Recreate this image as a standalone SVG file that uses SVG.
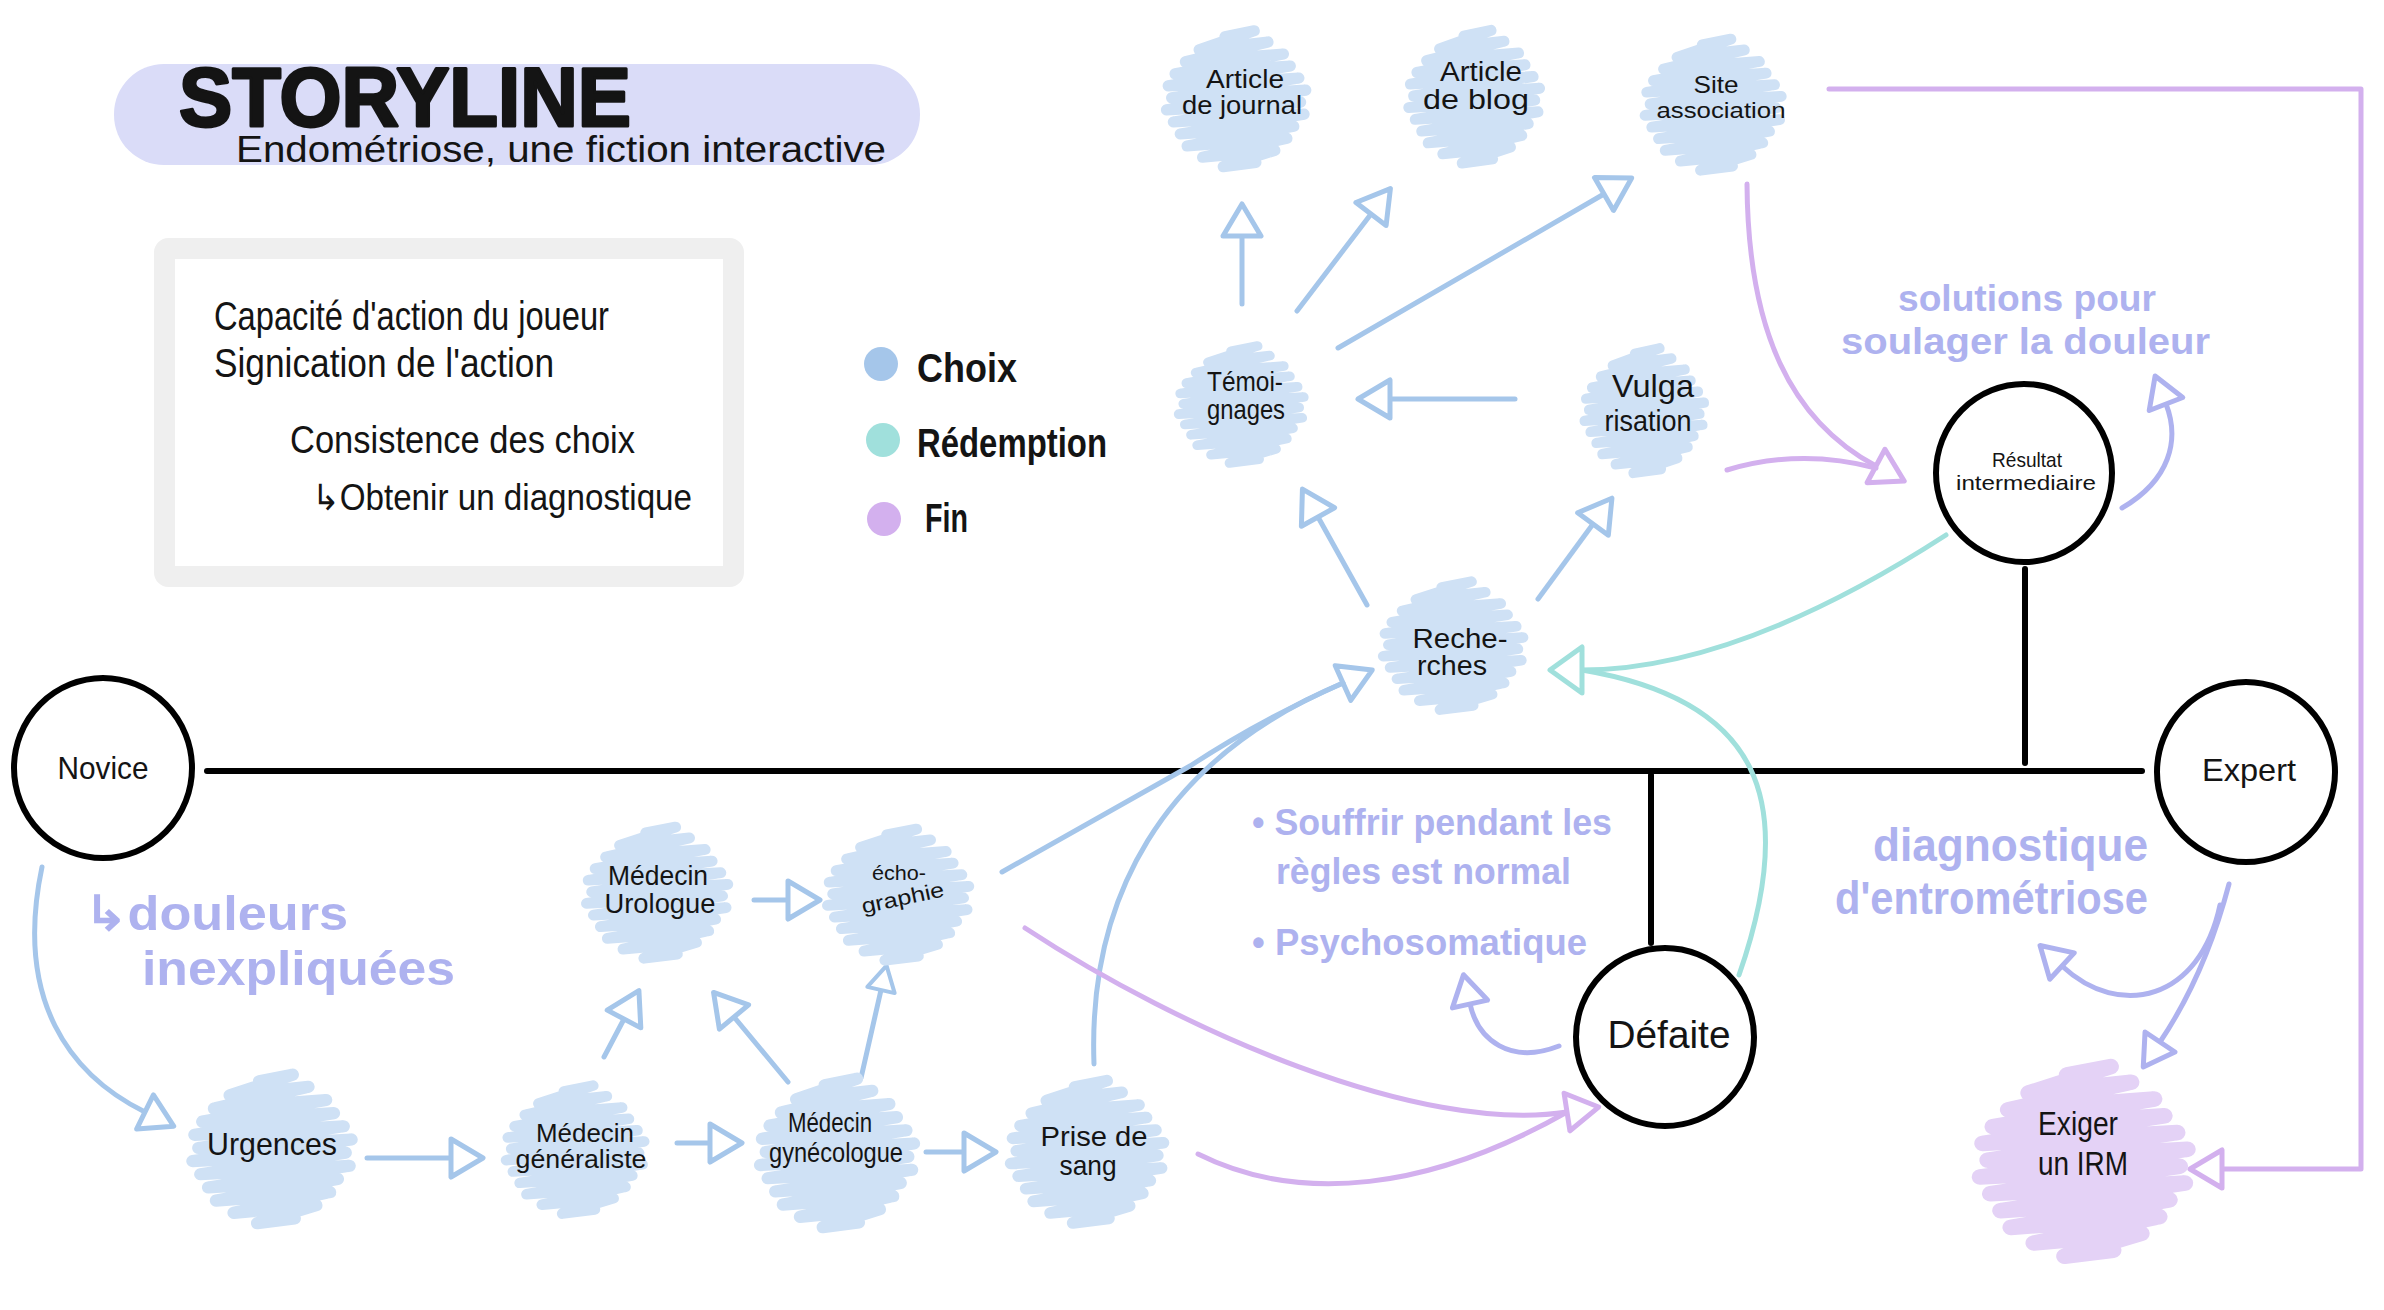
<svg xmlns="http://www.w3.org/2000/svg" xmlns:xlink="http://www.w3.org/1999/xlink" width="2384" height="1310" viewBox="0 0 2384 1310">
<style>
.hand{font-family:"Liberation Sans Narrow","Liberation Sans",Arial,sans-serif;fill:#141414;}
.lav{font-family:"Liberation Sans",Arial,sans-serif;fill:#aeb2ef;font-weight:bold;}
.bl{fill:none;stroke:#a5c6ea;stroke-width:5;stroke-linecap:round;stroke-linejoin:round;}
.pu{fill:none;stroke:#d3b0ee;stroke-width:5;stroke-linecap:round;stroke-linejoin:round;}
.te{fill:none;stroke:#a0e0dc;stroke-width:5;stroke-linecap:round;}
.lv{fill:none;stroke:#aeb2ef;stroke-width:5;stroke-linecap:round;}
.blk{fill:none;stroke:#000;stroke-width:6;stroke-linecap:round;}
.ring{fill:#fff;stroke:#000;stroke-width:6;}
.sb{stroke:#cfe1f5;}
.sp{stroke:#e4d2f6;}
</style>
<defs>
<path id="scrib" fill="none" stroke-width="13" stroke-linecap="round" stroke-linejoin="round" d="M-14,-70 L20,-77 L-44,-55 L36,-64 L-60,-41 L54,-50 L-72,-27 L62,-36 L-80,-13 L72,-22 L-76,1 L80,-8 L-82,15 L74,6 L-74,29 L78,20 L-66,43 L66,34 L-58,57 L58,48 L-40,70 L44,62 L-16,81 L22,76"/>
<marker id="mb" viewBox="-4 -24 40 48" refX="0" refY="0" markerWidth="40" markerHeight="48" markerUnits="userSpaceOnUse" orient="auto"><path d="M0,-19 L32,0 L0,19 Z" fill="#fff" stroke="#a5c6ea" stroke-width="5" stroke-linejoin="round"/></marker>
<marker id="mbs" viewBox="-4 -18 32 36" refX="0" refY="0" markerWidth="32" markerHeight="36" markerUnits="userSpaceOnUse" orient="auto"><path d="M0,-14 L25,0 L0,14 Z" fill="#fff" stroke="#a5c6ea" stroke-width="4" stroke-linejoin="round"/></marker>
<marker id="mp" viewBox="-4 -24 40 48" refX="0" refY="0" markerWidth="40" markerHeight="48" markerUnits="userSpaceOnUse" orient="auto"><path d="M0,-19 L32,0 L0,19 Z" fill="#fff" stroke="#d3b0ee" stroke-width="5" stroke-linejoin="round"/></marker>
<marker id="mt" viewBox="-4 -28 40 56" refX="0" refY="0" markerWidth="40" markerHeight="56" markerUnits="userSpaceOnUse" orient="auto"><path d="M0,-23 L32,0 L0,23 Z" fill="#fff" stroke="#a0e0dc" stroke-width="5" stroke-linejoin="round"/></marker>
<marker id="ml" viewBox="-4 -24 40 48" refX="0" refY="0" markerWidth="40" markerHeight="48" markerUnits="userSpaceOnUse" orient="auto"><path d="M0,-18 L30,0 L0,18 Z" fill="#fff" stroke="#aeb2ef" stroke-width="5" stroke-linejoin="round"/></marker>
</defs>
<rect width="2384" height="1310" fill="#fff"/>

<g id="title">
<rect x="114" y="64" width="806" height="101" rx="50" fill="#dadcf8"/>
<text class="hand" x="179" y="126" font-size="84" font-weight="bold" stroke="#141414" stroke-width="3" stroke-linejoin="round" textLength="452" lengthAdjust="spacingAndGlyphs">STORYLINE</text>
<text class="hand" x="236" y="162" font-size="37" textLength="650" lengthAdjust="spacingAndGlyphs">Endométriose, une fiction interactive</text>
</g>

<g id="notes">
<rect x="164.5" y="248.5" width="569" height="328" rx="4" fill="#fff" stroke="#efefef" stroke-width="21"/>
<text class="hand" x="214" y="330" font-size="40" textLength="395" lengthAdjust="spacingAndGlyphs">Capacité d'action du joueur</text>
<text class="hand" x="214" y="377" font-size="40" textLength="340" lengthAdjust="spacingAndGlyphs">Signication  de l'action</text>
<text class="hand" x="290" y="453" font-size="38" textLength="345" lengthAdjust="spacingAndGlyphs">Consistence  des  choix</text>
<text class="hand" x="312" y="510" font-size="36" textLength="380" lengthAdjust="spacingAndGlyphs">↳Obtenir un diagnostique</text>
</g>

<g id="legend">
<circle cx="881" cy="364" r="17" fill="#a5c6ea"/>
<circle cx="883" cy="440" r="17" fill="#a0e0dc"/>
<circle cx="884" cy="519" r="17" fill="#d3b0ee"/>
<text class="hand" x="917" y="382" font-size="40" font-weight="bold" textLength="100" lengthAdjust="spacingAndGlyphs">Choix</text>
<text class="hand" x="917" y="457" font-size="40" font-weight="bold" textLength="190" lengthAdjust="spacingAndGlyphs">Rédemption</text>
<text class="hand" x="925" y="532" font-size="40" font-weight="bold" textLength="43" lengthAdjust="spacingAndGlyphs">Fin</text>
</g>

<g id="annotations">
<text class="lav" x="84" y="930" font-size="48" textLength="264" lengthAdjust="spacingAndGlyphs">↳douleurs</text>
<text class="lav" x="142" y="985" font-size="48" textLength="313" lengthAdjust="spacingAndGlyphs">inexpliquées</text>
<text class="lav" x="1898" y="311" font-size="37" font-weight="normal" textLength="258" lengthAdjust="spacingAndGlyphs">solutions pour</text>
<text class="lav" x="1841" y="354" font-size="37" font-weight="normal" textLength="369" lengthAdjust="spacingAndGlyphs">soulager la douleur</text>
<text class="lav" x="1252" y="835" font-size="36" font-weight="normal" textLength="360" lengthAdjust="spacingAndGlyphs">• Souffrir pendant les</text>
<text class="lav" x="1276" y="884" font-size="36" font-weight="normal" textLength="295" lengthAdjust="spacingAndGlyphs">règles est normal</text>
<text class="lav" x="1252" y="955" font-size="36" font-weight="normal" textLength="335" lengthAdjust="spacingAndGlyphs">• Psychosomatique</text>
<text class="lav" x="1873" y="861" font-size="46" textLength="275" lengthAdjust="spacingAndGlyphs">diagnostique</text>
<text class="lav" x="1835" y="914" font-size="46" textLength="313" lengthAdjust="spacingAndGlyphs">d'entrométriose</text>
</g>

<g id="connectors">
<path class="blk" d="M207,771 L2142,771"/>
<path class="blk" d="M2025,569 L2025,763"/>
<path class="blk" d="M1651,775 L1651,943"/>
<path class="bl" d="M42,867 C14,1000 70,1075 145,1112" marker-end="url(#mb)"/>
<path class="bl" d="M367,1158 L451,1158" marker-end="url(#mb)"/>
<path class="bl" d="M677,1143 L710,1143" marker-end="url(#mb)"/>
<path class="bl" d="M926,1152 L964,1152" marker-end="url(#mb)"/>
<path class="bl" d="M604,1057 L624,1019" marker-end="url(#mb)"/>
<path class="bl" d="M788,1082 L734,1017" marker-end="url(#mb)"/>
<path class="bl" d="M861,1078 L881,990" stroke-width="3" marker-end="url(#mbs)"/>
<path class="bl" d="M754,900 L788,900" marker-end="url(#mb)"/>
<path class="bl" d="M1002,872 L1190,766 Q1260,720 1343,683" marker-end="url(#mb)"/>
<path class="bl" d="M1094,1064 C1088,900 1160,760 1343,683"/>
<path class="bl" d="M1367,605 L1318,517" marker-end="url(#mb)"/>
<path class="bl" d="M1538,599 L1593,524" marker-end="url(#mb)"/>
<path class="bl" d="M1515,399 L1390,399" marker-end="url(#mb)"/>
<path class="bl" d="M1242,304 L1242,236" marker-end="url(#mb)"/>
<path class="bl" d="M1297,311 L1371,214" marker-end="url(#mb)"/>
<path class="bl" d="M1338,348 L1604,194" marker-end="url(#mb)"/>
<path class="pu" d="M1747,184 C1748,330 1790,420 1876,466" marker-end="url(#mp)"/>
<path class="pu" d="M1727,470 Q1800,448 1876,468"/>
<path class="pu" d="M1829,89 L2361,89 L2361,1169 L2222,1169" marker-end="url(#mp)"/>
<path class="pu" d="M1198,1154 C1300,1205 1430,1190 1567,1112"/>
<path class="pu" d="M1025,928 C1180,1030 1420,1135 1567,1112" marker-end="url(#mp)"/>
<path class="te" d="M1739,975 C1800,800 1760,700 1582,670"/>
<path class="te" d="M1946,535 C1830,610 1700,670 1582,670" marker-end="url(#mt)"/>
<path class="lv" d="M2122,508 C2170,480 2180,440 2166,404" marker-end="url(#ml)"/>
<path class="lv" d="M1559,1046 C1510,1065 1478,1040 1470,1004" marker-end="url(#ml)"/>
<path class="lv" d="M2229,884 Q2205,975 2160,1042" marker-end="url(#ml)"/>
<path class="lv" d="M2220,905 C2200,1000 2120,1020 2062,966" marker-end="url(#ml)"/>
</g>

<g id="novice"><ellipse class="ring" cx="103" cy="768" rx="89" ry="90"/><text class="hand" x="103" y="779" font-size="32" text-anchor="middle" textLength="91" lengthAdjust="spacingAndGlyphs">Novice</text></g>
<g id="expert"><ellipse class="ring" cx="2246" cy="772" rx="89" ry="90"/><text class="hand" x="2249" y="781" font-size="32" text-anchor="middle" textLength="94" lengthAdjust="spacingAndGlyphs">Expert</text></g>
<g id="defaite"><ellipse class="ring" cx="1665" cy="1037" rx="89" ry="89"/><text class="hand" x="1669" y="1048" font-size="38" text-anchor="middle" textLength="123" lengthAdjust="spacingAndGlyphs">Défaite</text></g>
<g id="resultat"><ellipse class="ring" cx="2024" cy="473" rx="88" ry="89"/><text class="hand" x="2027" y="467" font-size="21" text-anchor="middle" textLength="70" lengthAdjust="spacingAndGlyphs">Résultat</text><text class="hand" x="2026" y="490" font-size="21" text-anchor="middle" textLength="140" lengthAdjust="spacingAndGlyphs">intermediaire</text></g>

<g id="article-journal"><use xlink:href="#scrib" class="sb" transform="translate(1237,97) scale(0.86,0.86)"/><text class="hand" x="1245" y="88" font-size="25" text-anchor="middle" textLength="78" lengthAdjust="spacingAndGlyphs">Article</text><text class="hand" x="1242" y="114" font-size="25" text-anchor="middle" textLength="120" lengthAdjust="spacingAndGlyphs">de journal</text></g>
<g id="article-blog"><use xlink:href="#scrib" class="sb" transform="translate(1475,95) scale(0.81,0.84)"/><text class="hand" x="1481" y="81" font-size="27" text-anchor="middle" textLength="82" lengthAdjust="spacingAndGlyphs">Article</text><text class="hand" x="1476" y="109" font-size="27" text-anchor="middle" textLength="106" lengthAdjust="spacingAndGlyphs">de blog</text></g>
<g id="site-association"><use xlink:href="#scrib" class="sb" transform="translate(1714,103) scale(0.84,0.83)"/><text class="hand" x="1716" y="93" font-size="24" text-anchor="middle" textLength="45" lengthAdjust="spacingAndGlyphs">Site</text><text class="hand" x="1721" y="118" font-size="22" text-anchor="middle" textLength="129" lengthAdjust="spacingAndGlyphs">association</text></g>
<g id="temoignages"><use xlink:href="#scrib" class="sb" transform="translate(1242,403) scale(0.77,0.74)"/><text class="hand" x="1245" y="391" font-size="27" text-anchor="middle" textLength="76" lengthAdjust="spacingAndGlyphs">Témoi-</text><text class="hand" x="1246" y="419" font-size="27" text-anchor="middle" textLength="78" lengthAdjust="spacingAndGlyphs">gnages</text></g>
<g id="vulgarisation"><use xlink:href="#scrib" class="sb" transform="translate(1645,409) scale(0.74,0.79)"/><text class="hand" x="1653" y="397" font-size="32" text-anchor="middle" textLength="82" lengthAdjust="spacingAndGlyphs">Vulga</text><text class="hand" x="1648" y="431" font-size="30" text-anchor="middle" textLength="87" lengthAdjust="spacingAndGlyphs">risation</text></g>
<g id="recherches"><use xlink:href="#scrib" class="sb" transform="translate(1454,644) scale(0.86,0.81)"/><text class="hand" x="1460" y="648" font-size="27" text-anchor="middle" textLength="95" lengthAdjust="spacingAndGlyphs">Reche-</text><text class="hand" x="1452" y="675" font-size="27" text-anchor="middle" textLength="70" lengthAdjust="spacingAndGlyphs">rches</text></g>
<g id="urgences"><use xlink:href="#scrib" class="sb" transform="translate(273,1147) scale(0.98,0.94)"/><text class="hand" x="272" y="1155" font-size="32" text-anchor="middle" textLength="130" lengthAdjust="spacingAndGlyphs">Urgences</text></g>
<g id="medecin-generaliste"><use xlink:href="#scrib" class="sb" transform="translate(576,1148) scale(0.85,0.81)"/><text class="hand" x="585" y="1142" font-size="25" text-anchor="middle" textLength="98" lengthAdjust="spacingAndGlyphs">Médecin</text><text class="hand" x="581" y="1168" font-size="25" text-anchor="middle" textLength="131" lengthAdjust="spacingAndGlyphs">généraliste</text></g>
<g id="medecin-gynecologue"><use xlink:href="#scrib" class="sb" transform="translate(838,1151) scale(0.95,0.94)"/><text class="hand" x="830" y="1132" font-size="27" text-anchor="middle" textLength="84" lengthAdjust="spacingAndGlyphs">Médecin</text><text class="hand" x="836" y="1162" font-size="27" text-anchor="middle" textLength="134" lengthAdjust="spacingAndGlyphs">gynécologue</text></g>
<g id="prise-de-sang"><use xlink:href="#scrib" class="sb" transform="translate(1088,1150) scale(0.94,0.9)"/><text class="hand" x="1094" y="1146" font-size="28" text-anchor="middle" textLength="107" lengthAdjust="spacingAndGlyphs">Prise de</text><text class="hand" x="1088" y="1175" font-size="28" text-anchor="middle" textLength="57" lengthAdjust="spacingAndGlyphs">sang</text></g>
<g id="medecin-urologue"><use xlink:href="#scrib" class="sb" transform="translate(658,891) scale(0.87,0.83)"/><text class="hand" x="658" y="885" font-size="27" text-anchor="middle" textLength="100" lengthAdjust="spacingAndGlyphs">Médecin</text><text class="hand" x="660" y="913" font-size="27" text-anchor="middle" textLength="111" lengthAdjust="spacingAndGlyphs">Urologue</text></g>
<g id="echographie"><use xlink:href="#scrib" class="sb" transform="translate(899,893) scale(0.87,0.83)"/><text class="hand" x="899" y="880" font-size="21" text-anchor="middle" textLength="54" lengthAdjust="spacingAndGlyphs">écho-</text><text class="hand" x="903" y="905" font-size="21" text-anchor="middle" textLength="84" lengthAdjust="spacingAndGlyphs" transform="rotate(-12 903 899)">graphie</text></g>
<g id="exiger-irm"><use xlink:href="#scrib" class="sp" transform="translate(2085,1159) scale(1.28,1.2)"/><text class="hand" x="2078" y="1135" font-size="34" text-anchor="middle" textLength="80" lengthAdjust="spacingAndGlyphs">Exiger</text><text class="hand" x="2083" y="1175" font-size="34" text-anchor="middle" textLength="90" lengthAdjust="spacingAndGlyphs">un IRM</text></g>
</svg>
